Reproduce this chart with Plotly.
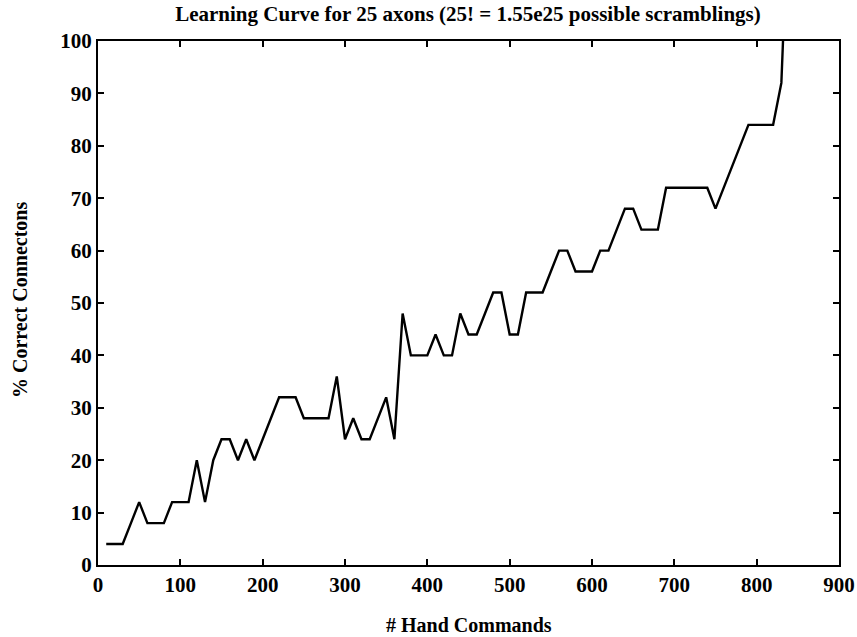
import plotly.graph_objects as go

commands = [10, 20, 30, 40, 50, 60, 70, 80, 90, 100,
            110, 120, 130, 140, 150, 160, 170, 180, 190, 200,
            210, 220, 230, 240, 250, 260, 270, 280, 290, 300,
            310, 320, 330, 340, 350, 360, 370, 380, 390, 400,
            410, 420, 430, 440, 450, 460, 470, 480, 490, 500,
            510, 520, 530, 540, 550, 560, 570, 580, 590, 600,
            610, 620, 630, 640, 650, 660, 670, 680, 690, 700,
            710, 720, 730, 740, 750, 760, 770, 780, 790, 800,
            810, 820, 830, 832]
pct_correct = [4, 4, 4, 8, 12, 8, 8, 8, 12, 12,
               12, 20, 12, 20, 24, 24, 20, 24, 20, 24,
               28, 32, 32, 32, 28, 28, 28, 28, 36, 24,
               28, 24, 24, 28, 32, 24, 48, 40, 40, 40,
               44, 40, 40, 48, 44, 44, 48, 52, 52, 44,
               44, 52, 52, 52, 56, 60, 60, 56, 56, 56,
               60, 60, 64, 68, 68, 64, 64, 64, 72, 72,
               72, 72, 72, 72, 68, 72, 76, 80, 84, 84,
               84, 84, 92, 100]

x_ticks = [0, 100, 200, 300, 400, 500, 600, 700, 800, 900]
y_ticks = [0, 10, 20, 30, 40, 50, 60, 70, 80, 90, 100]

FONT = "Liberation Serif, Times New Roman, serif"

W, H = 857, 637

fig = go.Figure()
fig.add_trace(go.Scatter(x=commands, y=pct_correct, mode="lines",
                         line=dict(color="black", width=2.4), showlegend=False,
                         hoverinfo="skip"))

axis_common = dict(showline=True, linecolor="black", linewidth=2, mirror="ticks",
                   ticks="inside", ticklen=6, tickwidth=1.5, tickcolor="black",
                   showgrid=False, zeroline=False,
                   tickfont=dict(family=FONT, size=21, color="black", weight="bold"))

fig.update_layout(
    width=W, height=H,
    margin=dict(l=98, r=18, t=41, b=72, autoexpand=False),
    paper_bgcolor="white", plot_bgcolor="white",
    title=dict(text="Learning Curve for 25 axons (25! = 1.55e25 possible scramblings)",
               x=468 / W, xanchor="center", y=1 - 14 / H, yanchor="middle",
               yref="container", pad=dict(t=0, b=0),
               font=dict(family=FONT, size=21, color="black", weight="bold")),
    xaxis=dict(range=[0, 900], tickvals=x_ticks, automargin=False, **axis_common),
    yaxis=dict(range=[0, 100], tickvals=y_ticks, automargin=False, **axis_common),
    annotations=[
        dict(text="# Hand Commands", xref="paper", yref="paper", x=0.5, y=-60 / 524,
             xanchor="center", yanchor="middle", showarrow=False,
             font=dict(family=FONT, size=20, color="black", weight="bold")),
        dict(text="% Correct Connectons", xref="paper", yref="paper", x=-78 / 741,
             y=(565 - 300) / 524, xanchor="center", yanchor="middle", showarrow=False,
             textangle=-90, font=dict(family=FONT, size=20, color="black", weight="bold")),
    ],
)

fig.write_html("out.html",
               config={"displayModeBar": False},
               post_script="document.body.style.margin='0px';"
                           "document.body.style.overflow='hidden';")
